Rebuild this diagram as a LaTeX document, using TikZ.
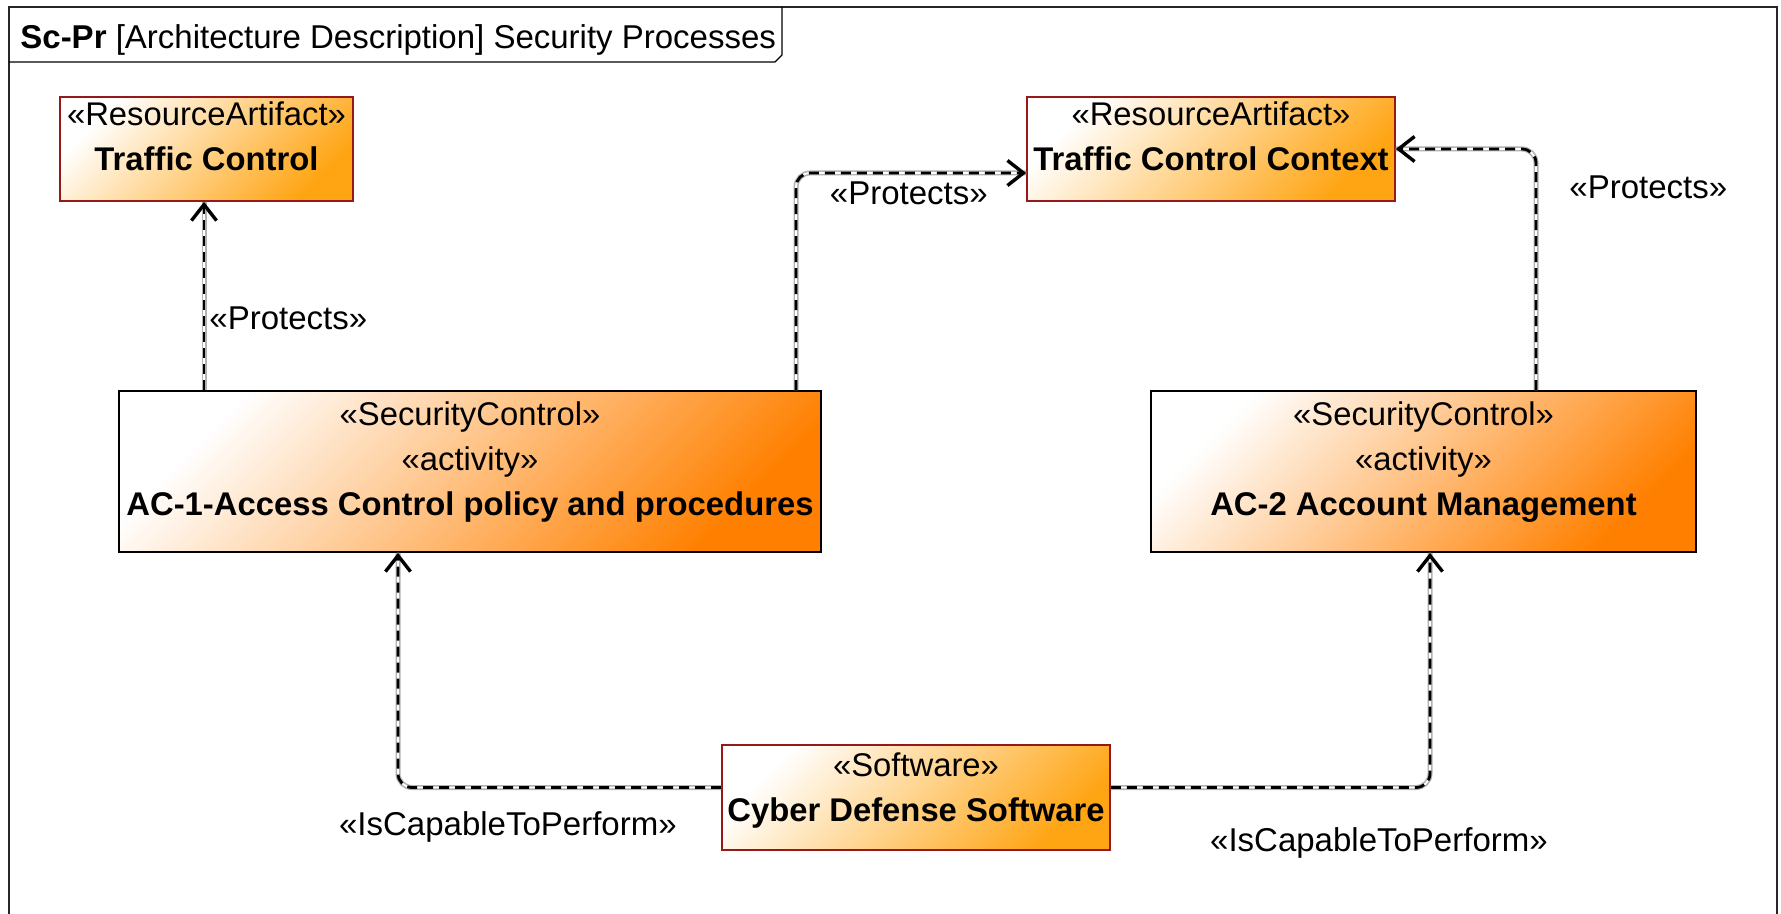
\documentclass[tikz,border=0pt]{standalone}
\usepackage{fontspec}
\setmainfont{Liberation Sans}
\usepackage{tikz}
\usetikzlibrary{arrows.meta}

\definecolor{raorange}{RGB}{255,165,20}
\definecolor{scorange}{RGB}{255,128,0}
\definecolor{raborder}{RGB}{150,25,25}

\begin{document}
\begin{tikzpicture}[x=0.5pt, y=-0.5pt,
		box/.style={draw, line width=0.8pt, inner sep=2pt, align=center, text depth=13pt,
			font=\fontsize{16.4}{22.5}\selectfont},
		res/.style={box, draw=raborder, top color=white, bottom color=raorange, shading angle=45},
		ctrl/.style={box, draw=black, top color=white, bottom color=scorange, shading angle=45, text depth=13pt},
		rel/.style={line width=1.4pt, dash pattern=on 5pt off 3pt, rounded corners=7pt,
			-{Straight Barb[length=8pt, width=12.5pt, line width=1.7pt]},
			preaction={draw=gray!60, double=white, double distance=0.9pt, line width=0.8pt, solid, -}},
		lbl/.style={font=\fontsize{16.5}{19}\selectfont, inner sep=0pt}]
				\useasboundingbox (0,0) rectangle (1781,914);
				\fill[white] (0,0) rectangle (1781,914);
				% frame and title tab
				\draw[line width=1.2pt, black!85] (9,930) -- (9,7) -- (1777,7) -- (1777,930);
				\draw[line width=0.7pt] (9,62) -- (775,62) -- (782,55) -- (782,7);
				\node[lbl, anchor=base west] (title) at (20,49) {\textbf{Sc-Pr} [Architecture Description] Security Processes};
				% elements
				\node[res, minimum width=146.5pt, minimum height=52pt] (tc) at (206.5,149) {«ResourceArtifact»\\\textbf{Traffic Control}};
				\node[res, minimum width=184pt, minimum height=52pt] (tcc) at (1211,149) {«ResourceArtifact»\\\textbf{Traffic Control Context}};
				\node[ctrl, minimum width=351pt, minimum height=80.5pt] (ac1) at (470,471.5) {«SecurityControl»\\«activity»\\\textbf{AC-1-Access Control policy and procedures}};
				\node[ctrl, minimum width=272.5pt, minimum height=80.5pt] (ac2) at (1423.5,471.5) {«SecurityControl»\\«activity»\\\textbf{AC-2 Account Management}};
				\node[res, minimum width=194pt, minimum height=52.5pt, text depth=10pt] (cds) at (916,797.5) {«Software»\\\textbf{Cyber Defense Software}};
				% relations
				\draw[rel] ([xshift=-133pt]ac1.north) -- ([xshift=-133pt]ac1.north |- tc.south)
					node[lbl, pos=0.38, anchor=west, xshift=2pt] (p1) {«Protects»};
				\draw[rel] ([xshift=163pt]ac1.north) |- ([yshift=-12pt]tcc.west)
					node[lbl, pos=0.745, yshift=-10pt] (p2) {«Protects»};
				\draw[rel] ([xshift=56.25pt]ac2.north) |- (tcc.east)
					node[lbl, pos=0.42, anchor=west, xshift=16pt] (p3) {«Protects»};
				\draw[rel] ([yshift=5pt]cds.west) -| ([xshift=-36pt]ac1.south)
					node[lbl, pos=0.33, yshift=-19.5pt] (i1) {«IsCapableToPerform»};
				\draw[rel] ([yshift=5pt]cds.east) -| ([xshift=3.25pt]ac2.south)
					node[lbl, pos=0.42, yshift=-27.5pt] (i2) {«IsCapableToPerform»};
\end{tikzpicture}
\end{document}
